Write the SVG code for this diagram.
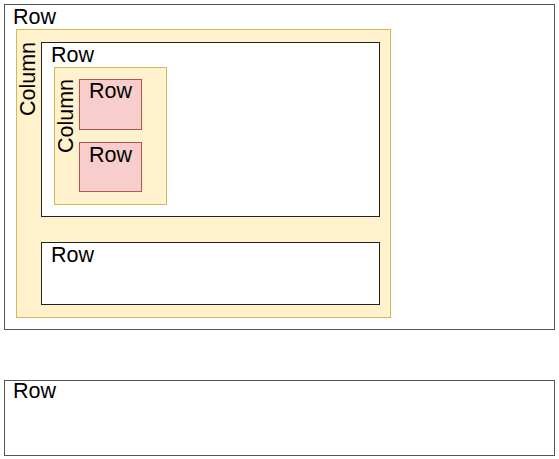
<svg xmlns="http://www.w3.org/2000/svg" width="559" height="459" viewBox="0 0 559 459">
<style>
text{font-family:"Liberation Sans",Arial,sans-serif;font-size:21.5px;fill:#000}
.row{fill:#fff;stroke:#555;stroke-width:1}
.irow{fill:#fff;stroke:#222;stroke-width:1}
.col{fill:#fff2cc;stroke:#d6b656;stroke-width:1}
.red{fill:#f8cecc;stroke:#b85450;stroke-width:1}
</style>
<rect width="559" height="459" fill="#fff"/>
<g id="row-outer">
<rect class="row" x="4.5" y="4.5" width="550" height="325"/>
<text x="13" y="24">Row</text>
</g>
<g id="column-outer">
<rect class="col" x="16.5" y="29.5" width="374" height="288"/>
<text transform="translate(35,79) rotate(-90)" text-anchor="middle">Column</text>
</g>
<g id="row-inner1">
<rect class="irow" x="41.5" y="42.5" width="338" height="174"/>
<text x="51" y="62">Row</text>
</g>
<g id="column-inner">
<rect class="col" x="54.5" y="67.5" width="112" height="137"/>
<text transform="translate(73,116) rotate(-90)" text-anchor="middle">Column</text>
</g>
<g id="row-red1">
<rect class="red" x="79.5" y="79.5" width="62" height="50"/>
<text x="110.5" y="98" text-anchor="middle">Row</text>
</g>
<g id="row-red2">
<rect class="red" x="79.5" y="142.5" width="62" height="49"/>
<text x="110.5" y="162" text-anchor="middle">Row</text>
</g>
<g id="row-inner2">
<rect class="irow" x="41.5" y="242.5" width="338" height="62"/>
<text x="51" y="262">Row</text>
</g>
<g id="row-bottom">
<rect class="row" x="4.5" y="380.5" width="550" height="75"/>
<text x="13" y="398">Row</text>
</g>
<g id="connectors"/>
</svg>
